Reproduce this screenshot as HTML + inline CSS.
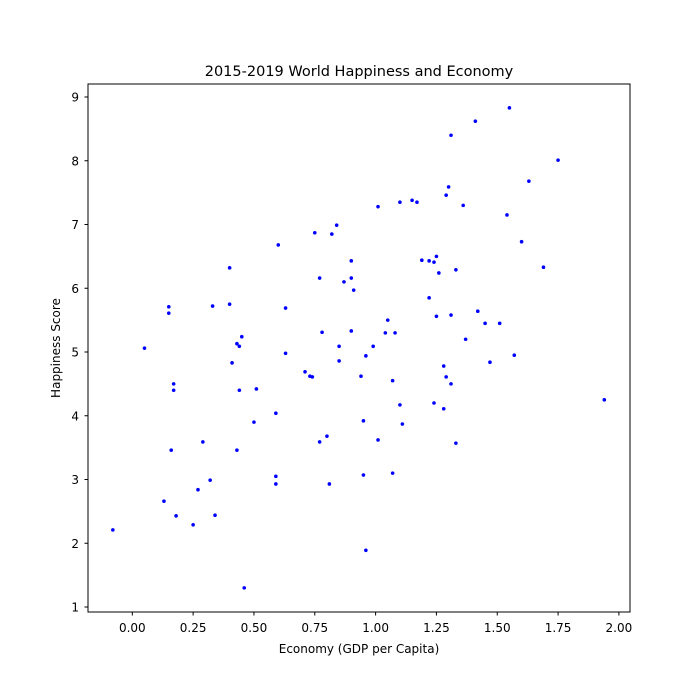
<!DOCTYPE html>
<html><head><meta charset="utf-8"><style>
body{margin:0;background:#fff;}
svg{display:block;font-family:"DejaVu Sans","Liberation Sans",sans-serif;}
</style></head><body>
<svg id="chart" width="700" height="700">
<rect width="700" height="700" fill="#fff"/>
<text x="359" y="76" text-anchor="middle" font-size="14.5">2015-2019 World Happiness and Economy</text>
<text x="359" y="653" text-anchor="middle" font-size="12">Economy (GDP per Capita)</text>
<text transform="translate(60,348) rotate(-90)" text-anchor="middle" font-size="12">Happiness Score</text>
<g id="ticks"></g>
<g id="points"></g>
<rect x="88" y="84" width="542" height="528" fill="none" stroke="#000" stroke-width="1"/>
</svg>
<script>
const gdp=[-0.08,0.05,0.13,0.15,0.15,0.16,0.17,0.17,0.18,0.25,0.27,0.29,0.32,0.33,0.34,0.40,0.40,0.41,0.43,0.43,0.44,0.44,0.45,0.46,0.50,0.51,0.59,0.59,0.59,0.60,0.63,0.63,0.71,0.73,0.74,0.75,0.77,0.77,0.78,0.80,0.81,0.82,0.84,0.85,0.85,0.87,0.90,0.90,0.90,0.91,0.94,0.95,0.95,0.96,0.96,0.99,1.01,1.01,1.04,1.05,1.07,1.07,1.08,1.10,1.10,1.11,1.15,1.17,1.19,1.22,1.22,1.24,1.24,1.25,1.25,1.26,1.28,1.28,1.29,1.29,1.30,1.31,1.31,1.31,1.33,1.33,1.36,1.37,1.42,1.41,1.45,1.47,1.51,1.55,1.54,1.63,1.57,1.60,1.75,1.69,1.94];
const happiness=[2.21,5.06,2.66,5.71,5.61,3.46,4.50,4.40,2.43,2.29,2.84,3.59,2.99,5.72,2.44,6.32,5.75,4.83,5.13,3.46,5.09,4.40,5.24,1.30,3.90,4.42,3.05,2.93,4.04,6.68,5.69,4.98,4.69,4.62,4.61,6.87,6.16,3.59,5.31,3.68,2.93,6.85,6.99,4.86,5.09,6.10,6.16,6.43,5.33,5.97,4.62,3.92,3.07,1.89,4.94,5.09,3.62,7.28,5.30,5.50,4.55,3.10,5.30,7.35,4.17,3.87,7.38,7.35,6.44,6.43,5.85,6.41,4.20,5.56,6.50,6.24,4.78,4.11,7.46,4.61,7.59,4.50,5.58,8.40,3.57,6.29,7.30,5.20,5.64,8.62,5.45,4.84,5.45,8.83,7.15,7.68,4.95,6.73,8.01,6.33,4.25];
const xTicks=[0,0.25,0.5,0.75,1,1.25,1.5,1.75,2];
const xTickLabels=["0.00","0.25","0.50","0.75","1.00","1.25","1.50","1.75","2.00"];
const yTicks=[1,2,3,4,5,6,7,8,9];
const yTickLabels=["1","2","3","4","5","6","7","8","9"];
const NS="http://www.w3.org/2000/svg";
function xs(v){return 132.3+v*243.3;}
function ys(v){return 607-(v-1)*63.75;}
const tg=document.getElementById('ticks');
xTicks.forEach((t,i)=>{
  const l=document.createElementNS(NS,'line');
  l.setAttribute('x1',xs(t));l.setAttribute('x2',xs(t));l.setAttribute('y1',612);l.setAttribute('y2',615.5);l.setAttribute('stroke','#000');
  
  
  tg.appendChild(l);
  const tx=document.createElementNS(NS,'text');
  tx.setAttribute('x',xs(t));tx.setAttribute('y',632);tx.setAttribute('text-anchor','middle');tx.setAttribute('font-size','12');
  tx.textContent=xTickLabels[i];
  
  
  tg.appendChild(tx);
});
yTicks.forEach((t,i)=>{
  const l=document.createElementNS(NS,'line');
  l.setAttribute('x1',84.5);l.setAttribute('x2',88);l.setAttribute('y1',ys(t));l.setAttribute('y2',ys(t));l.setAttribute('stroke','#000');
  
  
  tg.appendChild(l);
  const tx=document.createElementNS(NS,'text');
  tx.setAttribute('x',79);tx.setAttribute('y',ys(t)+4.5);tx.setAttribute('text-anchor','end');tx.setAttribute('font-size','12');
  tx.textContent=yTickLabels[i];
  
  
  tg.appendChild(tx);
});
const pg=document.getElementById('points');
gdp.forEach((g,i)=>{
  const c=document.createElementNS(NS,'circle');
  c.setAttribute('cx',xs(g));c.setAttribute('cy',ys(happiness[i]));c.setAttribute('r',1.8);c.setAttribute('fill','#0000ff');
  
  
  pg.appendChild(c);
});
</script>
</body></html>
